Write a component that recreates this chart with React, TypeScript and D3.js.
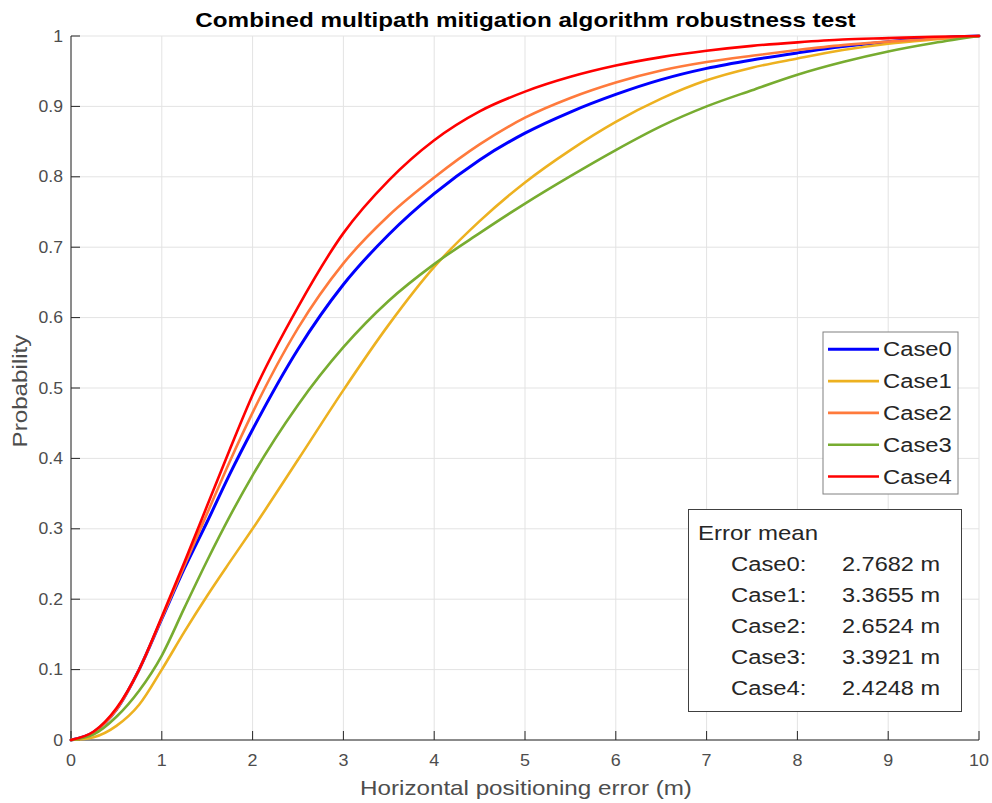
import React from "react";
import * as d3 from "d3";

const xs = [0, 0.25, 0.5, 0.75, 1, 1.25, 1.5, 1.75, 2, 2.5, 3, 3.5, 4, 4.5, 5, 5.5, 6, 6.5, 7, 7.5, 8, 8.5, 9, 9.5, 10];

const case0 = [0, 0.011, 0.043, 0.1, 0.172, 0.244, 0.31, 0.378, 0.441, 0.555, 0.647, 0.718, 0.776, 0.824, 0.862, 0.892, 0.917, 0.938, 0.954, 0.966, 0.976, 0.985, 0.992, 0.997, 1];
const case1 = [0, 0.004, 0.02, 0.05, 0.1, 0.154, 0.205, 0.253, 0.3, 0.398, 0.497, 0.59, 0.672, 0.737, 0.792, 0.838, 0.878, 0.911, 0.937, 0.955, 0.968, 0.98, 0.989, 0.995, 1];
const case2 = [0, 0.011, 0.043, 0.1, 0.173, 0.248, 0.322, 0.396, 0.465, 0.585, 0.677, 0.745, 0.799, 0.846, 0.884, 0.912, 0.934, 0.951, 0.963, 0.972, 0.98, 0.987, 0.992, 0.996, 1];
const case3 = [0, 0.008, 0.033, 0.07, 0.12, 0.188, 0.255, 0.318, 0.376, 0.476, 0.558, 0.624, 0.676, 0.72, 0.762, 0.801, 0.838, 0.872, 0.9, 0.923, 0.945, 0.963, 0.978, 0.99, 1];
const case4 = [0, 0.012, 0.045, 0.1, 0.175, 0.253, 0.333, 0.413, 0.49, 0.615, 0.72, 0.795, 0.852, 0.893, 0.921, 0.942, 0.958, 0.97, 0.979, 0.986, 0.991, 0.995, 0.997, 0.999, 1];

const seriesNames = ["Case0", "Case1", "Case2", "Case3", "Case4"];
const seriesData = [case0, case1, case2, case3, case4];
const seriesColors = ["#0000ff", "#edb120", "#ff7a3c", "#77ac30", "#ff0000"];
const errorMeans = ["2.7682 m", "3.3655 m", "2.6524 m", "3.3921 m", "2.4248 m"];

const xTicks = [0, 1, 2, 3, 4, 5, 6, 7, 8, 9, 10];
const yTicks = [0, 0.1, 0.2, 0.3, 0.4, 0.5, 0.6, 0.7, 0.8, 0.9, 1];

const FONT = "'Liberation Sans', Arial, Helvetica, sans-serif";

type TProps = {
  x: number;
  y: number;
  size: number;
  sx?: number;
  anchor?: "start" | "middle" | "end";
  fill?: string;
  weight?: string;
  rotate?: number;
  children: React.ReactNode;
};

function T({ x, y, size, sx = 1.19, anchor = "start", fill = "#262626", weight = "normal", rotate = 0, children }: TProps) {
  return (
    <text
      transform={`translate(${x},${y}) rotate(${rotate}) scale(${sx},1)`}
      fontSize={size}
      textAnchor={anchor}
      fill={fill}
      fontWeight={weight}
    >
      {children}
    </text>
  );
}

export default function App() {
  const W = 992, H = 803;
  const x = d3.scaleLinear().domain([0, 10]).range([71, 979]);
  const y = d3.scaleLinear().domain([0, 1]).range([740, 36]);
  const line = d3
    .line<number>()
    .x((_, i) => x(xs[i]))
    .y((d) => y(d))
    .curve(d3.curveMonotoneX);

  const axisColor = "#262626";
  const tickColor = "#4d4d4d";
  const gridColor = "#e3e3e3";

  return (
    <svg
      width={W}
      height={H}
      style={{ position: "absolute", left: 0, top: 0, background: "#fff" }}
      fontFamily={FONT}
    >
      <rect x={0} y={0} width={W} height={H} fill="#fff" />
      {/* grid */}
      {xTicks.map((t) => (
        <line key={"gx" + t} x1={x(t)} x2={x(t)} y1={y(0)} y2={y(1)} stroke={gridColor} strokeWidth={1} />
      ))}
      {yTicks.map((t) => (
        <line key={"gy" + t} x1={x(0)} x2={x(10)} y1={y(t)} y2={y(t)} stroke={gridColor} strokeWidth={1} />
      ))}
      {/* axes */}
      <line x1={x(0)} x2={x(10)} y1={y(0)} y2={y(0)} stroke={axisColor} strokeWidth={1} />
      <line x1={x(0)} x2={x(0)} y1={y(0)} y2={y(1)} stroke={axisColor} strokeWidth={1} />
      {xTicks.map((t) => (
        <g key={"tx" + t}>
          <line x1={x(t)} x2={x(t)} y1={y(0)} y2={y(0) - 9} stroke={axisColor} strokeWidth={1} />
          <T x={x(t)} y={766} size={16} sx={1.12} anchor="middle" fill={tickColor}>
            {t}
          </T>
        </g>
      ))}
      {yTicks.map((t) => (
        <g key={"ty" + t}>
          <line x1={x(0)} x2={x(0) + 9} y1={y(t)} y2={y(t)} stroke={axisColor} strokeWidth={1} />
          <T x={63} y={y(t) + 5.5} size={16} sx={1.1} anchor="end" fill={tickColor}>
            {d3.format("~g")(t)}
          </T>
        </g>
      ))}
      {/* lines */}
      {seriesData.map((s, i) => (
        <path
          key={seriesNames[i]}
          d={line(s) || ""}
          fill="none"
          stroke={seriesColors[i]}
          strokeWidth={i === 0 ? 3 : 2.6}
          strokeLinejoin="round"
          strokeLinecap="round"
        />
      ))}
      {/* title */}
      <T x={525.5} y={26.5} size={21} sx={1.153} anchor="middle" weight="bold" fill="#000">
        Combined multipath mitigation algorithm robustness test
      </T>
      {/* axis labels */}
      <T x={526} y={795} size={20.5} sx={1.18} anchor="middle" fill={tickColor}>
        Horizontal positioning error (m)
      </T>
      <T x={27} y={391} size={20.5} sx={1.18} anchor="middle" fill={tickColor} rotate={-90}>
        Probability
      </T>
      {/* legend */}
      <rect x={823} y={332} width={135} height={162} fill="#fff" stroke="#808080" strokeWidth={1} />
      {seriesNames.map((n, i) => {
        const cy = 349.3 + i * 31.8;
        return (
          <g key={"lg" + n}>
            <line x1={828} x2={879} y1={cy} y2={cy} stroke={seriesColors[i]} strokeWidth={i === 0 ? 3 : 2.6} />
            <T x={883} y={cy + 7} size={20}>
              {n}
            </T>
          </g>
        );
      })}
      {/* error mean box */}
      <rect x={688.5} y={509.5} width={273} height={202} fill="#fff" stroke="#404040" strokeWidth={1} />
      <T x={698} y={540} size={20} sx={1.2}>
        Error mean
      </T>
      {seriesNames.map((n, i) => (
        <g key={"em" + n}>
          <T x={731} y={571 + i * 31} size={20}>
            {n + ":"}
          </T>
          <T x={842} y={571 + i * 31} size={20} sx={1.175}>
            {errorMeans[i]}
          </T>
        </g>
      ))}
    </svg>
  );
}
